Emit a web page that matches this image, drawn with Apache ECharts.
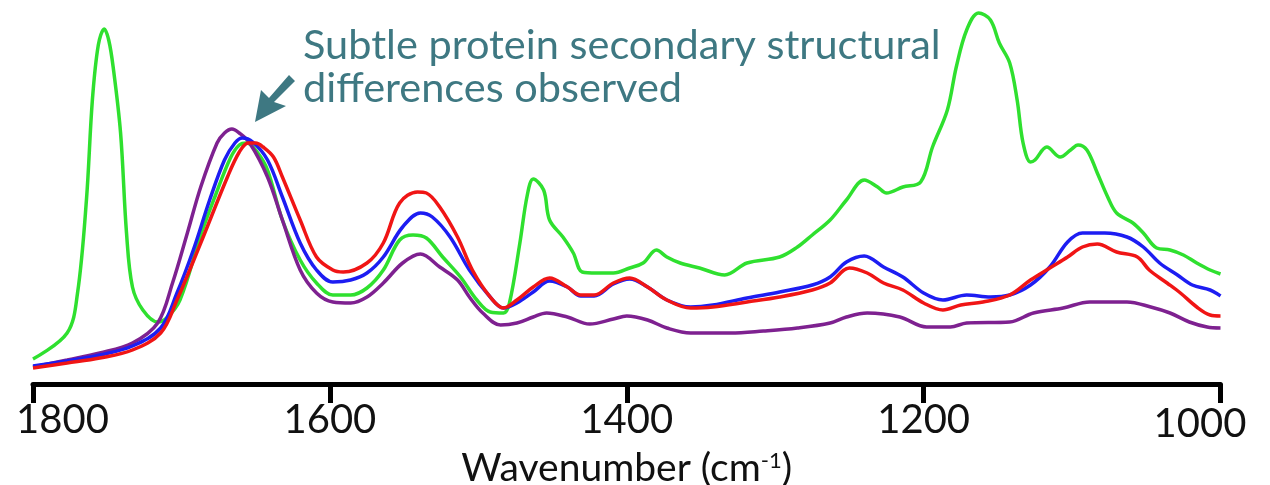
<!DOCTYPE html>
<html>
<head>
<meta charset="utf-8">
<script src="https://cdn.jsdelivr.net/npm/echarts@6/dist/echarts.min.js"></script>
<style>html,body{margin:0;padding:0;background:#fff;}#c{width:1270px;height:485px;}</style>
</head>
<body>
<div id="c"></div>
<script>
// Tick labels on the wavenumber axis
const xTicks = [1800, 1600, 1400, 1200, 1000];

// Green spectrum
const greenWn  = [1800,1777,1770,1764,1760,1756,1752,1749,1746,1741,1737,1733,1726,1716,1710,1701,1687,1677,1667,1661,1656,1649,1642,1632,1620,1609,1598,1586,1575,1564,1553,1544,1535,1524,1512,1501,1492,1483,1479,1472,1467,1463,1456,1452,1443,1436,1430,1420,1409,1398,1389,1380,1373,1364,1351,1334,1319,1297,1285,1275,1263,1252,1240,1231,1225,1214,1202,1194,1184,1178,1171,1163,1155,1149,1142,1137,1133,1128,1125,1117,1108,1101,1096,1090,1083,1076,1070,1059,1052,1043,1034,1025,1016,1007,1000];
const greenAbs = [0.25,0.51,0.91,1.84,2.84,3.39,3.55,3.44,3.17,2.51,1.51,0.97,0.74,0.62,0.66,0.84,1.49,1.89,2.26,2.39,2.41,2.32,2.14,1.64,1.24,1.01,0.89,0.89,0.96,1.14,1.44,1.49,1.46,1.27,1.07,0.84,0.72,0.71,0.81,1.41,1.89,2.05,1.94,1.64,1.47,1.31,1.12,1.11,1.11,1.16,1.21,1.34,1.27,1.21,1.16,1.09,1.21,1.27,1.37,1.49,1.64,1.84,2.04,1.97,1.91,1.97,2.02,2.37,2.74,3.17,3.54,3.71,3.64,3.41,3.21,2.84,2.41,2.22,2.24,2.37,2.27,2.34,2.39,2.34,2.11,1.87,1.71,1.61,1.51,1.36,1.34,1.29,1.21,1.14,1.10];

// Purple spectrum
const purpleWn  = [1800,1777,1755,1733,1716,1706,1696,1687,1676,1671,1666,1661,1654,1642,1632,1620,1609,1598,1586,1575,1564,1551,1539,1526,1514,1506,1497,1485,1474,1463,1454,1440,1425,1409,1400,1386,1373,1357,1330,1308,1285,1263,1252,1238,1216,1198,1182,1171,1142,1126,1106,1088,1063,1047,1034,1021,1009,1000];
const purpleAbs = [0.17,0.24,0.31,0.41,0.61,1.01,1.51,1.97,2.41,2.51,2.55,2.51,2.41,2.07,1.64,1.14,0.91,0.82,0.81,0.87,1.01,1.21,1.30,1.17,1.04,0.87,0.71,0.59,0.61,0.67,0.71,0.67,0.60,0.65,0.68,0.64,0.56,0.51,0.51,0.53,0.56,0.61,0.67,0.71,0.67,0.57,0.57,0.61,0.62,0.71,0.76,0.82,0.82,0.77,0.71,0.62,0.57,0.56];

// Red spectrum
const redWn  = [1800,1777,1755,1733,1714,1703,1687,1669,1661,1655,1650,1645,1638,1632,1620,1609,1598,1591,1575,1564,1553,1541,1535,1526,1514,1504,1492,1483,1474,1463,1452,1440,1431,1422,1409,1398,1386,1373,1357,1342,1319,1297,1275,1263,1250,1238,1227,1214,1200,1187,1175,1160,1142,1128,1115,1103,1093,1083,1070,1056,1048,1036,1027,1016,1007,1000];
const redAbs = [0.16,0.21,0.26,0.34,0.51,0.84,1.41,2.07,2.32,2.41,2.41,2.37,2.27,2.07,1.64,1.27,1.14,1.12,1.21,1.41,1.81,1.92,1.91,1.77,1.47,1.14,0.87,0.76,0.84,0.97,1.06,0.97,0.89,0.89,1.01,1.06,0.97,0.84,0.76,0.77,0.82,0.87,0.94,1.01,1.16,1.11,1.01,0.94,0.81,0.74,0.79,0.82,0.89,1.04,1.16,1.27,1.37,1.40,1.32,1.27,1.14,1.01,0.91,0.77,0.69,0.68];

// Blue spectrum
const blueWn  = [1800,1777,1755,1733,1714,1703,1692,1681,1671,1664,1659,1652,1642,1632,1620,1609,1598,1586,1575,1564,1551,1539,1531,1519,1506,1492,1483,1474,1463,1452,1440,1431,1422,1409,1398,1386,1373,1357,1342,1319,1297,1275,1263,1252,1240,1227,1214,1200,1187,1171,1155,1142,1128,1115,1103,1093,1078,1063,1052,1041,1029,1019,1007,1000];
const blueAbs = [0.18,0.23,0.29,0.38,0.56,0.91,1.34,1.84,2.24,2.41,2.46,2.42,2.24,1.87,1.41,1.14,1.02,1.04,1.11,1.27,1.57,1.71,1.67,1.47,1.14,0.87,0.76,0.81,0.92,1.03,0.97,0.88,0.88,1.00,1.05,0.97,0.84,0.77,0.79,0.86,0.92,0.99,1.07,1.22,1.28,1.17,1.07,0.91,0.84,0.89,0.87,0.89,0.99,1.17,1.42,1.51,1.51,1.47,1.37,1.21,1.09,0.99,0.94,0.88];

const annotationLines = ['Subtle protein secondary structural', 'differences observed'];
const axisTitle = 'Wavenumber (cm';
const axisTitleSup = '-1';

function pairs(xs, ys) { return xs.map((x, i) => [x, ys[i]]); }

const chart = echarts.init(document.getElementById('c'), null, { renderer: 'canvas' });
const teal = '#3e7882';
const font = 'Lato';

function lineSeries(name, xs, ys, color) {
  return {
    name, type: 'line', data: pairs(xs, ys), smooth: 0.35, symbol: 'none',
    lineStyle: { color, width: 3.5 }, z: 2
  };
}

chart.setOption({
  animation: false,
  backgroundColor: '#ffffff',
  grid: { left: 33, right: 49.5, top: 0, bottom: 101, containLabel: false, outerBoundsMode: 'none' },
  xAxis: {
    type: 'value', inverse: true, min: 1000, max: 1800, interval: 200,
    axisLine: { show: true, lineStyle: { color: '#000', width: 5 } },
    axisTick: { show: true, inside: false, length: 19, lineStyle: { color: '#000', width: 5 } },
    splitLine: { show: false },
    axisLabel: {
      margin: 16, fontFamily: font, fontSize: 40, color: '#111',
      formatter: function (v) {
        if (v === 1800) return '{first|' + v + '}';
        if (v === 1000) return '{last|' + v + '}';
        return '{n|' + v + '}';
      },
      rich: {
        n: { fontFamily: font, fontSize: 40, color: '#111' },
        first: { fontFamily: font, fontSize: 40, color: '#111', padding: [0, 0, 0, 59] },
        last: { fontFamily: font, fontSize: 40, color: '#111', padding: [4, 41, 0, 0] }
      }
    },
    name: '{a|' + axisTitle + '}{s|' + axisTitleSup + '}{a|)}',
    nameLocation: 'middle', nameGap: 49,
    nameTextStyle: {
      rich: {
        a: { fontFamily: font, fontSize: 39, color: '#111', verticalAlign: 'bottom' },
        s: { fontFamily: font, fontSize: 22, color: '#111', verticalAlign: 'bottom', padding: [0, 0, 16, 0] }
      }
    }
  },
  yAxis: { type: 'value', min: 0, max: 3.84, show: false },
  series: [
    lineSeries('Green', greenWn, greenAbs, '#2fe02f'),
    lineSeries('Purple', purpleWn, purpleAbs, '#7e2190'),
    lineSeries('Blue', blueWn, blueAbs, '#1d1df2'),
    lineSeries('Red', redWn, redAbs, '#f01515')
  ],
  graphic: [
    { type: 'text', left: 303, top: 25, style: { text: annotationLines[0], fontFamily: font, fontSize: 41.5, fill: teal } },
    { type: 'text', left: 303, top: 68, style: { text: annotationLines[1], fontFamily: font, fontSize: 41.5, fill: teal } },
    { type: 'polygon', shape: { points: [[289, 75], [295, 81], [274, 102], [286, 106], [255, 122], [261, 90], [269, 98]] }, style: { fill: teal } }
  ]
});
</script>
</body>
</html>
